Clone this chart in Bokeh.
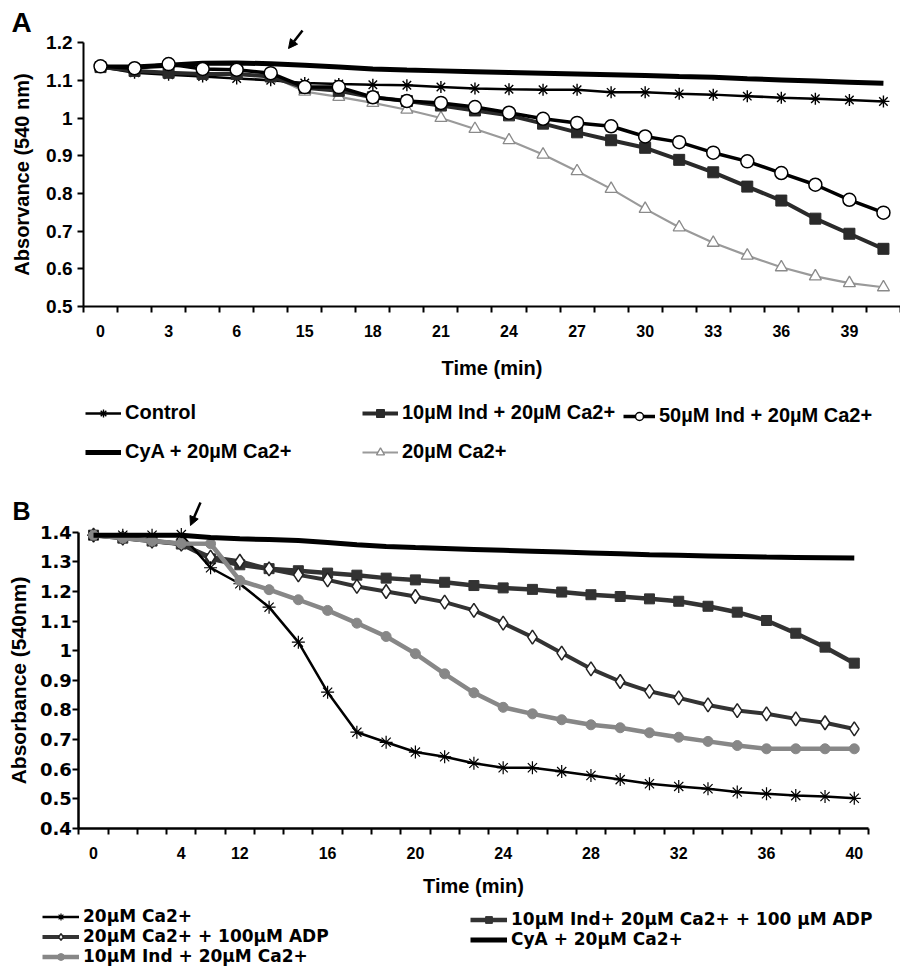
from bokeh.plotting import figure
from bokeh.layouts import column
from bokeh.models import FixedTicker, Legend, LegendItem, Arrow, NormalHead, Label
from bokeh.embed import file_html
from bokeh.resources import INLINE

FONT = "Liberation Sans"
WIDE = "DejaVu Sans"

# ---------------- Panel A data ----------------
a_tick_index = [0, 2, 4, 6, 8, 10, 12, 14, 16, 18, 20, 22]
a_tick_labels = ["0", "3", "6", "15", "18", "21", "24", "27", "30", "33", "36", "39"]
a_control = [1.135, 1.120, 1.115, 1.110, 1.105, 1.100, 1.093, 1.090, 1.088, 1.087, 1.082, 1.078,
             1.076, 1.075, 1.075, 1.068, 1.068, 1.064, 1.062, 1.058, 1.054, 1.051, 1.048, 1.044]
a_cya = [1.135, 1.135, 1.140, 1.145, 1.146, 1.144, 1.140, 1.135, 1.130, 1.127, 1.125, 1.123,
         1.121, 1.119, 1.117, 1.115, 1.113, 1.110, 1.108, 1.104, 1.101, 1.098, 1.095, 1.092]
a_ind10 = [1.135, 1.125, 1.120, 1.117, 1.117, 1.110, 1.080, 1.072, 1.055, 1.045, 1.033, 1.020,
           1.007, 0.985, 0.962, 0.941, 0.921, 0.889, 0.856, 0.818, 0.781, 0.733, 0.693, 0.653]
a_ind50 = [1.137, 1.132, 1.143, 1.130, 1.128, 1.119, 1.082, 1.082, 1.055, 1.045, 1.040, 1.029,
           1.014, 0.998, 0.987, 0.978, 0.951, 0.936, 0.908, 0.885, 0.854, 0.823, 0.783, 0.749]
a_ca20 = [1.135, 1.128, 1.120, 1.118, 1.115, 1.112, 1.070, 1.056, 1.040, 1.022, 1.000, 0.971,
          0.941, 0.903, 0.859, 0.812, 0.759, 0.710, 0.669, 0.635, 0.604, 0.580, 0.562, 0.551]
a_yticks = [0.5, 0.6, 0.7, 0.8, 0.9, 1.0, 1.1, 1.2]
a_ytick_labels = ["0.5", "0.6", "0.7", "0.8", "0.9", "1", "1.1", "1.2"]

# ---------------- Panel B data ----------------
b_tick_index = [0, 3, 5, 8, 11, 14, 17, 20, 23, 26]
b_tick_labels = ["0", "4", "12", "16", "20", "24", "28", "32", "36", "40"]
b_ca20 = [1.390, 1.390, 1.390, 1.392, 1.280, 1.226, 1.147, 1.029, 0.860, 0.725, 0.691, 0.658, 0.642, 0.620,
          0.605, 0.605, 0.592, 0.579, 0.565, 0.551, 0.542, 0.534, 0.523, 0.517, 0.511, 0.508, 0.502]
b_ind_ca_adp = [1.390, 1.380, 1.370, 1.360, 1.310, 1.290, 1.277, 1.270, 1.262, 1.255, 1.245, 1.239, 1.231, 1.220,
                1.212, 1.207, 1.198, 1.189, 1.183, 1.175, 1.167, 1.150, 1.130, 1.102, 1.059, 1.012, 0.958]
b_ca_adp = [1.390, 1.380, 1.370, 1.360, 1.316, 1.302, 1.276, 1.256, 1.239, 1.217, 1.200, 1.183, 1.164, 1.136,
            1.093, 1.046, 0.992, 0.939, 0.896, 0.863, 0.841, 0.817, 0.798, 0.787, 0.770, 0.757, 0.736]
b_ind_ca = [1.390, 1.380, 1.370, 1.362, 1.361, 1.237, 1.206, 1.172, 1.136, 1.093, 1.048, 0.990, 0.922, 0.858,
            0.809, 0.787, 0.767, 0.750, 0.740, 0.723, 0.708, 0.694, 0.680, 0.669, 0.669, 0.669, 0.669]
b_cya = [1.390, 1.390, 1.390, 1.390, 1.382, 1.378, 1.375, 1.372, 1.365, 1.358, 1.352, 1.348, 1.345, 1.342,
         1.339, 1.336, 1.333, 1.330, 1.327, 1.324, 1.322, 1.320, 1.318, 1.316, 1.315, 1.314, 1.313]
b_yticks = [0.4, 0.5, 0.6, 0.7, 0.8, 0.9, 1.0, 1.1, 1.2, 1.3, 1.4]
b_ytick_labels = ["0.4", "0.5", "0.6", "0.7", "0.8", "0.9", "1", "1.1", "1.2", "1.3", "1.4"]


class Geo:
    """Pixel geometry of one panel (page pixels); the frame fills the whole figure."""
    def __init__(self, top, height, left, width, x0_px, dx, y0_px, y0_val, dy):
        self.top, self.height, self.left, self.width = top, height, left, width
        self.x0_px, self.dx, self.y0_px, self.y0_val, self.dy = x0_px, dx, y0_px, y0_val, dy

    def x(self, px):   # page px -> data x (category index)
        return -0.5 + (px - self.x0_px) / self.dx

    def y(self, py):   # page px -> data y
        return self.y0_val + (self.y0_px - py) / self.dy

    def xr(self):
        return (self.x(self.left), self.x(self.left + self.width))

    def yr(self):
        return (self.y(self.top + self.height), self.y(self.top))

    def loc(self, px, py_bottom):  # legend bottom-left, relative to frame bottom-left
        return (px - self.left, (self.top + self.height) - py_bottom)


def style_axes(p, n, tick_index, tick_labels, yticks, ytick_labels, ylabel,
               ytick_font, ytick_size, ylabel_size, axis_w, xt_standoff,
               yl_standoff, ylab_standoff):
    p.outline_line_color = None
    p.xgrid.grid_line_color = None
    p.ygrid.grid_line_color = None
    p.background_fill_color = "white"
    p.border_fill_color = "white"

    xa = p.xaxis[0]
    xa.fixed_location = yticks[0]
    xa.bounds = (-0.5, n - 0.5)
    xa.ticker = FixedTicker(ticks=tick_index, minor_ticks=[i - 0.5 for i in range(n + 1)])
    xa.major_label_overrides = {i: lab for i, lab in zip(tick_index, tick_labels)}
    xa.major_tick_line_color = None
    xa.major_tick_out = 0
    xa.major_tick_in = 0
    xa.minor_tick_line_color = "black"
    xa.minor_tick_line_width = 2
    xa.minor_tick_out = 6
    xa.minor_tick_in = 0
    xa.axis_line_width = axis_w
    xa.axis_line_color = "black"
    xa.major_label_text_font = FONT
    xa.major_label_text_font_style = "bold"
    xa.major_label_text_font_size = "16px"
    xa.major_label_text_color = "black"
    xa.major_label_standoff = 12
    xa.axis_label = "Time (min)"
    xa.axis_label_text_font = FONT
    xa.axis_label_text_font_style = "bold"
    xa.axis_label_text_font_size = "20px"
    xa.axis_label_text_color = "black"
    xa.axis_label_standoff = xt_standoff

    ya = p.yaxis[0]
    ya.fixed_location = -0.5
    ya.ticker = FixedTicker(ticks=yticks, minor_ticks=[])
    ya.major_label_overrides = {v: lab for v, lab in zip(yticks, ytick_labels)}
    ya.bounds = (yticks[0], yticks[-1])
    ya.major_tick_line_color = "black"
    ya.major_tick_line_width = 2
    ya.major_tick_out = 6
    ya.major_tick_in = 0
    ya.minor_tick_line_color = None
    ya.axis_line_width = axis_w
    ya.axis_line_color = "black"
    ya.major_label_text_font = ytick_font
    ya.major_label_text_font_style = "bold"
    ya.major_label_text_font_size = ytick_size
    ya.major_label_text_color = "black"
    ya.major_label_standoff = yl_standoff
    ya.axis_label = ylabel
    ya.axis_label_text_font = FONT
    ya.axis_label_text_font_style = "bold"
    ya.axis_label_text_font_size = ylabel_size
    ya.axis_label_text_color = "black"
    ya.axis_label_standoff = ylab_standoff


def add_legend(p, items, loc, font, size, row_h, spacing, glyph_w):
    leg = Legend(items=items, location=loc, orientation="vertical",
                 border_line_color=None, background_fill_alpha=0,
                 padding=0, margin=0, spacing=spacing,
                 label_text_font=font, label_text_font_style="bold",
                 label_text_font_size=size, label_text_color="black",
                 glyph_width=glyph_w, glyph_height=row_h, label_height=row_h,
                 label_standoff=4)
    p.add_layout(leg)


def make_fig(g):
    return figure(width=g.width, height=g.height, x_range=g.xr(), y_range=g.yr(),
                  output_backend="svg", toolbar_location=None,
                  min_border_left=0, min_border_right=0, min_border_top=0, min_border_bottom=0)


# ================= Panel A =================
gA = Geo(top=0, height=476, left=0, width=900, x0_px=83, dx=34.04, y0_px=306, y0_val=0.5, dy=377.0)
na = len(a_control)
xa_idx = list(range(na))
pA = make_fig(gA)
style_axes(pA, na, a_tick_index, a_tick_labels, a_yticks, a_ytick_labels,
           "Absorvance (540 nm)", FONT, "19px", "20px", 2, 17, 5, 10)

rA_cya = pA.line(xa_idx, a_cya, line_color="black", line_width=5)
rA_ca_l = pA.line(xa_idx, a_ca20, line_color="#9a9a9a", line_width=2.2)
rA_ca_m = pA.scatter(xa_idx, a_ca20, marker="triangle", size=12, fill_color="white",
                     line_color="#8a8a8a", line_width=1.3)
rA_c_l = pA.line(xa_idx, a_control, line_color="black", line_width=2.5)
rA_c_m = pA.scatter(xa_idx, a_control, marker="asterisk", size=12, line_color="black", line_width=1.4)
rA_i10_l = pA.line(xa_idx, a_ind10, line_color="#2a2a2a", line_width=4)
rA_i10_m = pA.scatter(xa_idx, a_ind10, marker="square", size=11, fill_color="#2a2a2a", line_color="#2a2a2a")
rA_i50_l = pA.line(xa_idx, a_ind50, line_color="black", line_width=3.5)
rA_i50_m = pA.scatter(xa_idx, a_ind50, marker="circle", size=13, fill_color="white",
                      line_color="black", line_width=1.5)

pA.add_layout(Arrow(end=NormalHead(size=9, fill_color="black", line_color="black"),
                    x_start=gA.x(302), y_start=gA.y(30), x_end=gA.x(288), y_end=gA.y(48),
                    line_color="black", line_width=2.5))
pA.add_layout(Label(x=gA.x(11), y=gA.y(6), text="A", text_font=FONT, text_font_style="bold",
                    text_font_size="28px", text_baseline="top", text_color="black"))

add_legend(pA, [LegendItem(label="Control", renderers=[rA_c_l, rA_c_m]),
                LegendItem(label="CyA + 20µM Ca2+", renderers=[rA_cya])],
           gA.loc(85, 463), FONT, "20px", 20, 16, 36)
add_legend(pA, [LegendItem(label="10µM Ind + 20µM Ca2+", renderers=[rA_i10_l, rA_i10_m]),
                LegendItem(label="20µM Ca2+", renderers=[rA_ca_l, rA_ca_m])],
           gA.loc(362, 463), FONT, "20px", 20, 16, 36)
add_legend(pA, [LegendItem(label="50µM Ind + 20µM Ca2+", renderers=[rA_i50_l, rA_i50_m])],
           gA.loc(623, 427), FONT, "20px", 20, 16, 32)

# ================= Panel B =================
gB = Geo(top=476, height=498, left=0, width=900, x0_px=78.4, dx=29.26, y0_px=828, y0_val=0.4, dy=296.3)
nb = len(b_ca20)
xb_idx = list(range(nb))
pB = make_fig(gB)
style_axes(pB, nb, b_tick_index, b_tick_labels, b_yticks, b_ytick_labels,
           "Absorbance (540nm)", WIDE, "18px", "21px", 2.5, 13, 1, 7)

rB_ia_l = pB.line(xb_idx, b_ind_ca_adp, line_color="#333333", line_width=4.5)
rB_ia_m = pB.scatter(xb_idx, b_ind_ca_adp, marker="square", size=10, fill_color="#333333", line_color="#333333")
rB_ad_l = pB.line(xb_idx, b_ca_adp, line_color="#333333", line_width=4)
rB_ad_m = pB.scatter(xb_idx, b_ca_adp, marker="diamond", size=14, fill_color="white",
                     line_color="#222222", line_width=1.5)
rB_ca_l = pB.line(xb_idx, b_ca20, line_color="black", line_width=2.5)
rB_ca_m = pB.scatter(xb_idx, b_ca20, marker="asterisk", size=13, line_color="black", line_width=1.2)
rB_ic_l = pB.line(xb_idx, b_ind_ca, line_color="#878787", line_width=4.5)
rB_ic_m = pB.scatter(xb_idx, b_ind_ca, marker="circle", size=10, fill_color="#878787", line_color="#878787")
rB_cya = pB.line(xb_idx, b_cya, line_color="black", line_width=5)

pB.add_layout(Arrow(end=NormalHead(size=9, fill_color="black", line_color="black"),
                    x_start=gB.x(200), y_start=gB.y(502), x_end=gB.x(190), y_end=gB.y(525),
                    line_color="black", line_width=2.5))
pB.add_layout(Label(x=gB.x(12), y=gB.y(496), text="B", text_font=FONT, text_font_style="bold",
                    text_font_size="25px", text_baseline="top", text_color="black"))

add_legend(pB, [LegendItem(label="20µM Ca2+", renderers=[rB_ca_l, rB_ca_m]),
                LegendItem(label="20µM Ca2+ + 100µM ADP", renderers=[rB_ad_l, rB_ad_m]),
                LegendItem(label="10µM Ind + 20µM Ca2+", renderers=[rB_ic_l, rB_ic_m])],
           gB.loc(42, 966), WIDE, "17px", 17, 0, 37)
add_legend(pB, [LegendItem(label="10µM Ind+ 20µM Ca2+ + 100 µM ADP", renderers=[rB_ia_l, rB_ia_m]),
                LegendItem(label="CyA + 20µM Ca2+", renderers=[rB_cya])],
           gB.loc(470, 949), WIDE, "17px", 17, 0, 37)

layout = column(pA, pB, spacing=0)
open("out.html", "w").write(file_html(layout, INLINE))
